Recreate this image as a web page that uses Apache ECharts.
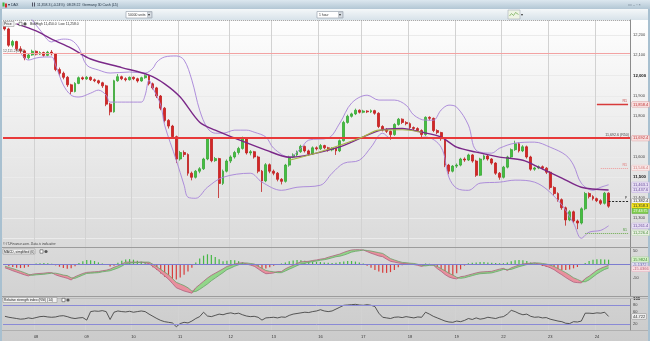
<!DOCTYPE html>
<html><head><meta charset="utf-8">
<script src="https://cdn.jsdelivr.net/npm/echarts@6/dist/echarts.min.js"></script>
<style>html,body{margin:0;padding:0;background:#fff;overflow:hidden}#c{width:650px;height:341px}</style>
</head><body><div id="c"></div>
<script>
// ---------- DATA ----------
const dayIdx = [8,21,33,45,58,69,81,92,104,116,128,140,152];
const dayLabels = ['08','09','10','11','12','13','16','17','18','19','22','23','24'];
const nCats = 161;
// [open, close, low, high] hourly-ish candles
const candles = [
[12245,12230,12222,12258],[12230,12150,12142,12236],[12150,12168,12140,12176],[12168,12132,12122,12172],
[12132,12122,12110,12145],[12122,12088,12076,12128],[12088,12102,12080,12108],[12102,12120,12098,12128],
[12120,12106,12100,12124],[12106,12114,12102,12120],[12114,12100,12094,12118],[12100,12116,12096,12122],
[12116,12108,12100,12126],[12108,12030,12022,12112],[12030,12012,12000,12040],[12012,11992,11982,12020],
[11992,11955,11945,11998],[11955,11922,11910,11960],[11922,11962,11918,11968],[11962,11990,11958,11996],
[11990,11984,11978,11996],[11984,11992,11980,11998],[11992,11980,11974,11996],[11980,11975,11968,11986],
[11975,11965,11958,11980],[11965,11950,11940,11970],[11950,11860,11850,11955],[11860,11822,11805,11866],
[11822,11975,11818,11980],[11975,11995,11970,12008],[11995,11985,11978,12000],[11985,11980,11972,11992],
[11980,11992,11976,11996],[11992,11985,11978,11996],[11985,11974,11966,11990],[11974,11990,11970,11995],
[11990,12000,11985,12006],[12000,11960,11952,12004],[11960,11940,11932,11966],[11940,11900,11890,11945],
[11900,11840,11830,11905],[11840,11780,11770,11846],[11780,11752,11740,11786],[11752,11700,11690,11758],
[11700,11590,11570,11705],[11590,11622,11582,11630],[11622,11612,11600,11632],[11612,11520,11508,11618],
[11520,11500,11485,11528],[11500,11530,11494,11536],[11530,11542,11520,11550],[11542,11590,11536,11596],
[11590,11690,11584,11698],[11690,11582,11574,11694],[11582,11592,11576,11600],[11592,11470,11398,11596],
[11470,11530,11462,11538],[11530,11580,11524,11588],[11580,11600,11570,11608],[11600,11622,11592,11630],
[11622,11642,11612,11650],[11642,11695,11636,11700],[11695,11620,11612,11698],[11620,11626,11608,11634],
[11626,11600,11592,11630],[11600,11530,11520,11606],[11530,11482,11428,11536],[11482,11562,11476,11570],
[11562,11530,11520,11568],[11530,11520,11510,11538],[11520,11490,11480,11526],[11490,11480,11465,11496],
[11480,11560,11474,11566],[11560,11600,11552,11606],[11600,11610,11594,11618],[11610,11626,11602,11632],
[11626,11652,11620,11660],[11652,11630,11622,11656],[11630,11615,11606,11636],[11615,11645,11610,11652],
[11645,11640,11632,11652],[11640,11656,11634,11664],[11656,11645,11638,11660],[11645,11635,11626,11650],
[11635,11642,11628,11648],[11642,11630,11610,11646],[11630,11680,11624,11686],[11680,11770,11676,11778],
[11770,11800,11764,11808],[11800,11812,11794,11818],[11812,11830,11806,11838],[11830,11820,11814,11834],
[11820,11826,11815,11832],[11826,11822,11816,11830],[11822,11828,11816,11834],[11828,11815,11808,11832],
[11815,11750,11742,11820],[11750,11735,11726,11756],[11735,11726,11718,11742],[11726,11710,11685,11730],
[11710,11760,11704,11766],[11760,11786,11754,11792],[11786,11770,11762,11790],[11770,11764,11756,11776],
[11764,11745,11738,11770],[11745,11740,11732,11750],[11740,11730,11722,11746],[11730,11710,11690,11736],
[11710,11795,11704,11800],[11795,11790,11780,11800],[11790,11730,11722,11794],[11730,11720,11712,11736],
[11720,11690,11680,11724],[11690,11560,11550,11694],[11560,11530,11515,11566],[11530,11555,11524,11560],
[11555,11560,11546,11568],[11560,11590,11554,11596],[11590,11585,11576,11598],[11585,11610,11580,11616],
[11610,11580,11572,11614],[11580,11510,11502,11586],[11510,11590,11506,11596],[11590,11605,11584,11612],
[11605,11590,11582,11610],[11590,11570,11562,11594],[11570,11520,11512,11574],[11520,11500,11488,11526],
[11500,11550,11494,11556],[11550,11600,11544,11606],[11600,11636,11594,11642],[11636,11665,11630,11680],
[11665,11630,11622,11672],[11630,11650,11624,11658],[11650,11600,11592,11656],[11600,11540,11532,11606],
[11540,11546,11532,11552],[11546,11552,11540,11558],[11552,11545,11538,11558],[11545,11525,11516,11550],
[11525,11450,11440,11530],[11450,11420,11410,11456],[11420,11390,11380,11426],[11390,11350,11340,11396],
[11350,11290,11262,11356],[11290,11330,11284,11338],[11330,11285,11276,11336],[11285,11275,11245,11292],
[11275,11345,11268,11352],[11345,11420,11338,11428],[11420,11405,11396,11426],[11405,11395,11386,11412],
[11395,11385,11378,11400],[11385,11372,11364,11392],[11372,11422,11366,11428],[11422,11358,11350,11426]
];
// Bollinger bands and moving average, read as [candle index, price]
const bbUpper = [[6,12300],[9,12225],[12,12166],[13,12172],[15,12180],[17,12175],[19,12136],[21,12052],[24,12028],[27,12013],[32,12018],[36,12013],[38,12037],[39,12067],[41,12092],[44,12097],[46,12077],[48,11978],[50,11830],[52,11742],[54,11717],[56,11717],[59,11732],[62,11732],[64,11722],[67,11698],[69,11643],[73,11599],[76,11643],[78,11683],[83,11693],[86,11767],[89,11865],[93,11904],[96,11880],[100,11880],[103,11855],[105,11806],[108,11781],[110,11781],[112,11831],[114,11855],[116,11845],[119,11757],[121,11633],[125,11619],[127,11643],[131,11668],[136,11673],[140,11648],[144,11609],[146,11560],[148,11471],[151,11436],[153,11451],[155,11463.1]];
const bbLower = [[4,12111],[6,12077],[8,12087],[10,12092],[12,12092],[13,12052],[15,11954],[17,11904],[19,11895],[22,11914],[24,11929],[26,11904],[27,11870],[31,11870],[35,11870],[36,11904],[37,11978],[38,11939],[40,11855],[41,11757],[44,11584],[46,11461],[47,11402],[49,11397],[52,11451],[56,11500],[63,11520],[66,11476],[71,11436],[75,11451],[81,11461],[84,11520],[87,11569],[91,11584],[94,11648],[97,11717],[99,11693],[105,11693],[108,11698],[112,11648],[114,11500],[116,11446],[119,11436],[122,11471],[127,11476],[131,11486],[136,11476],[142,11387],[146,11274],[148,11200],[150,11230],[153,11239],[155,11261.4]];
const maPurple = [[3,12255],[8,12220],[12,12180],[17,12136],[22,12082],[30,12040],[37,12003],[41,11960],[45,11895],[50,11771],[54,11732],[59,11693],[67,11634],[73,11599],[86,11650],[96,11730],[102,11740],[107,11722],[112,11698],[116,11648],[121,11624],[127,11599],[133,11584],[137,11550],[143,11496],[148,11451],[155,11437.6]];
const maOlive = [[73,11584],[80,11620],[86,11658],[92,11700],[96,11732],[102,11734],[107,11722]];
// MACD (simplified) panel
const macdHist = [-4,-8,-11,-14,-15,-14,-10,-4,2,3,4,3,1,-5,-10,-15,-18,-16,-8,4,10,15,14,11,6,2,-4,-9,-6,5,12,17,18,16,12,8,4,-3,-12,-22,-35,-47,-56,-59,-57,-50,-40,-28,-14,6,20,31,36,33,26,18,10,12,15,14,10,6,2,-3,-8,-14,-18,-17,-12,-6,-2,2,6,10,13,15,14,12,10,9,8,7,6,5,4,5,7,9,11,11,9,6,2,-6,-14,-22,-28,-32,-33,-30,-22,-12,-5,-2,-2,-3,-3,-2,2,1,-5,-14,-24,-34,-40,-41,-34,-20,-6,3,5,6,7,7,6,5,4,3,3,6,10,14,15,14,11,6,2,-3,-7,-11,-15,-18,-21,-22,-22,-20,-16,-11,-4,4,11,16,18,18,17,16];
const macdLine = [-14,-19,-25,-30,-35,-40,-44,-38,-36,-35,-34,-32,-32,-40,-45,-49,-53,-59,-47,-41,-35,-31,-30,-29,-28,-25,-23,-19,-12,-7,0,7,7,7,7,7,5,1,-9,-20,-32,-44,-56,-72,-88,-94,-100,-104,-108,-88,-76,-64,-52,-42,-34,-26,-18,-9,-5,0,3,5,0,-4,-8,-18,-28,-36,-35,-33,-28,-28,-18,-11,-5,2,8,9,10,13,15,18,20,25,29,33,37,43,48,52,53,53,52,46,40,35,30,27,18,10,7,4,2,1,-1,-2,-5,-9,-3,-3,-4,-17,-27,-39,-48,-53,-55,-47,-45,-41,-37,-33,-30,-29,-28,-27,-23,-19,-16,-24,-14,-9,-4,0,2,3,4,0,-4,-8,-14,-21,-31,-40,-50,-59,-67,-69,-70,-54,-45,-34,-23,-16,-10,-5];
const signalLine = [-8,-13,-17,-22,-27,-32,-38,-42,-40,-39,-38,-36,-34,-34,-37,-41,-43,-51,-53,-47,-41,-35,-34,-33,-32,-29,-27,-25,-20,-15,-8,1,3,5,5,7,7,7,-1,-10,-20,-30,-40,-54,-68,-74,-80,-88,-100,-102,-94,-84,-74,-62,-52,-42,-32,-21,-15,-8,-3,3,4,2,0,-8,-16,-24,-27,-29,-32,-32,-26,-19,-13,-6,0,3,6,9,11,14,16,19,23,27,29,33,38,44,47,49,52,50,48,45,42,39,30,20,15,10,6,5,3,2,-1,-5,-7,-5,-4,-9,-17,-25,-34,-41,-49,-53,-51,-47,-43,-39,-36,-35,-34,-33,-29,-25,-20,-20,-20,-15,-10,-6,-2,1,4,4,2,0,-4,-9,-17,-24,-32,-41,-51,-57,-64,-66,-59,-48,-37,-28,-20,-15];
const macdBoxes = ['15.9824','-5.1372','-15.0366'];
// RSI (14)
const rsi = [45,42,40,38,36,37,40,38,41,44,45,43,42,43,46,47,44,40,38,40,41,33,60,62,61,63,60,35,58,62,60,59,61,58,60,62,60,52,45,38,32,28,26,24,12,22,26,24,30,38,44,58,46,44,48,52,50,54,56,53,55,50,46,44,45,42,33,40,41,42,40,43,42,48,52,54,56,58,57,60,62,66,62,60,62,68,74,80,81,82,83,81,80,82,80,76,55,42,40,38,42,43,41,44,42,40,43,42,58,52,45,40,35,30,27,26,30,28,32,38,35,40,36,38,42,40,38,42,44,52,64,60,54,50,52,45,42,43,40,41,36,33,30,28,23,22,28,27,30,55,55,54,56,55,58,44.722];
// tick labels
const priceTicks = [11300,11400,11500,11600,11800,11900,12000,12100,12200];
const macdTicks = [-50,50];
const rsiTicks = [20,60,80,100];

// ---------- CHART ----------
const FONT = '"Liberation Sans", Arial, sans-serif';
const dayMap = {}; dayIdx.forEach((d,k)=>{dayMap[d]=dayLabels[k];});
const cats = []; for (let i=0;i<nCats;i++) cats.push(i);
const fmt = v => v.toLocaleString('en-US');
const grad = (a,b) => ({type:'linear',x:0,y:0,x2:0,y2:1,colorStops:[{offset:0,color:a},{offset:1,color:b}]});

const ribBase = macdLine.map((v,i)=>Math.min(v, signalLine[i]));
const ribUp = macdLine.map((v,i)=>Math.max(v - signalLine[i], 0));
const ribDn = macdLine.map((v,i)=>Math.max(signalLine[i] - v, 0));

function box(val, text, bg, col, border){
  return {yAxis: val, lineStyle:{color:'rgba(0,0,0,0)', width:1, opacity:1, type:'solid'},
    label:{show:true, opacity:1, position:'end', distance:2, formatter:text, fontSize:4, fontFamily:FONT,
      color:col, backgroundColor:bg, borderColor:border||bg, borderWidth:0.5, padding:[1,1,0,1]}};
}
function tag(text, col){
  return {show:true, position:'insideEndTop', formatter:text, fontSize:3.6, fontFamily:FONT, color:col, distance:[1,1]};
}

const chart = echarts.init(document.getElementById('c'), null, {renderer:'canvas', width:650, height:341});
const xAxes = [0,1,2].map(k => ({
  gridIndex:k, type:'category', data:cats, boundaryGap:true,
  axisLine:{show:false}, axisTick:{show:false},
  axisLabel:{show:k===2, interval:(i)=>dayMap[i]!==undefined, formatter:(v,i)=>dayMap[i]||'',
    fontSize:4, color:'#333', margin:4, fontFamily:FONT},
  splitLine:{show:true, interval:(i)=>dayMap[i]!==undefined, lineStyle:{color:'#d2d2d2', width:1}}
}));
const yLab = (vals, boldVals) => ({
  customValues: vals, fontSize:4, color:'#444', margin:3, fontFamily:FONT,
  formatter: v => boldVals.indexOf(v) >= 0 ? '{b|'+fmt(v)+'}' : fmt(v),
  rich:{b:{fontWeight:'bold', fontSize:4.3, color:'#111', fontFamily:FONT}}
});

const option = {
  animation:false,
  backgroundColor:'transparent',
  grid:[
    {left:3, right:20, top:20, height:227, outerBoundsMode:'none'},
    {left:3, right:20, top:247, height:49, outerBoundsMode:'none'},
    {left:3, right:20, top:299, height:31.5, outerBoundsMode:'none'}
  ],
  xAxis: xAxes,
  yAxis:[
    {gridIndex:0, type:'value', position:'right', min:11157, max:12274, splitNumber:11,
      axisLine:{show:true, lineStyle:{color:'#8c8c8c'}}, axisTick:{show:false},
      splitLine:{show:true, lineStyle:{color:'#ebebeb'}}, axisLabel: yLab(priceTicks,[12000,11500])},
    {gridIndex:1, type:'value', position:'right', min:-118.5, max:63,
      axisLine:{show:true, lineStyle:{color:'#8c8c8c'}}, axisTick:{show:false},
      splitLine:{show:false}, axisLabel: yLab(macdTicks,[])},
    {gridIndex:2, type:'value', position:'right', min:0, max:100,
      axisLine:{show:true, lineStyle:{color:'#8c8c8c'}}, axisTick:{show:false},
      splitLine:{show:false}, axisLabel: yLab(rsiTicks,[100])}
  ],
  series:[
    {type:'candlestick', xAxisIndex:0, yAxisIndex:0, data:candles, barWidth:2.4, clip:false,
      itemStyle:{color:'#44c040', color0:'#d42626', borderColor:'#39a636', borderColor0:'#c01f1f', borderWidth:0.8},
      markLine:{symbol:['none','none'], silent:true, animation:false, precision:1,
        data:[
          {yAxis:12111.2, lineStyle:{color:'#f3a3a3', width:1, type:'solid'},
            label:{show:true, position:'insideStartTop', formatter:'12,111.2(R50)', fontSize:3.4, fontFamily:FONT, color:'#555', distance:[0,1]}},
          {yAxis:11692.4, lineStyle:{color:'#e8393a', width:2, type:'solid'}, label:tag('11,692.6 (R50)','#444')},
          box(11692.4,'11,692.4','#f7dede','#c03535','#e0a0a0'),
          [{coord:[152,11858.4], lineStyle:{color:'#d83a3a', width:1.3, type:'solid'}, label:tag('R1','#c84040')},{coord:[160,11858.4]}],
          box(11858.4,'11,858.4','#f7dede','#c03535','#e0a0a0'),
          [{coord:[153,11546.4], lineStyle:{color:'#f09a9a', width:1, type:[1,1]}, label:tag('R1','#e07070')},{coord:[160,11546.4]}],
          box(11546.4,'11,546.4','#f9e9e9','#d07878','#ecc0c0'),
          box(11463.1,'11,463.1','#e6def2','#6a4c9c','#c4b2e0'),
          box(11437.6,'11,437.6','#e6def2','#6a4c9c','#c4b2e0'),
          [{coord:[155,11382.4], lineStyle:{color:'#222', width:1, type:[2,1.5]}, label:tag('P','#333')},{coord:[160,11382.4]}],
          box(11382.4,'11,382.4','#f2f2f2','#333','#999'),
          box(11358.3,'11,358.3','#f2e21a','#333','#c8b800'),
          box(11261.4,'11,261.4','#e6def2','#6a4c9c','#c4b2e0'),
          [{coord:[149,11226.4], lineStyle:{color:'#6aaa4a', width:1, type:[1,1]}, label:tag('S1','#4a9a3a')},{coord:[160,11226.4]}],
          box(11226.4,'11,226.4','#e8f0e2','#4a8a3a','#b8d0b0')
        ]}
    },
    {type:'line', xAxisIndex:0, yAxisIndex:0, data:bbUpper, symbol:'none', smooth:0.35, lineStyle:{color:'#a682d8', width:0.9}, z:3},
    {type:'line', xAxisIndex:0, yAxisIndex:0, data:bbLower, symbol:'none', smooth:0.35, lineStyle:{color:'#a682d8', width:0.9}, z:3},
    {type:'line', xAxisIndex:0, yAxisIndex:0, data:maPurple, symbol:'none', smooth:0.3, lineStyle:{color:'#7a2888', width:1.4}, z:4},
    {type:'line', xAxisIndex:0, yAxisIndex:0, data:maOlive, symbol:'none', smooth:0.3, lineStyle:{color:'#a6b646', width:1.1}, z:5},
    // MACD panel
    {type:'bar', xAxisIndex:1, yAxisIndex:1, data:macdHist, barWidth:1.2, clip:false,
      itemStyle:{color:p => p.value >= 0 ? '#46b846' : '#d83c3c'},
      markLine:{symbol:['none','none'], silent:true, animation:false,
        data:[
          {yAxis:0, lineStyle:{color:'#7c7cd0', width:1, type:'solid'}, label:{show:false}},
          box(macdHist[macdHist.length-1], macdBoxes[0], '#d8f0cc', '#3a8a2a', '#9ccc88'),
          box(macdLine[macdLine.length-1], macdBoxes[1], '#e2e0f2', '#5a5aa0', '#b8b8dc'),
          box(signalLine[signalLine.length-1]-3, macdBoxes[2], '#f6e0e4', '#c05a70', '#e4b0bc')
        ]}
    },
    {type:'line', xAxisIndex:1, yAxisIndex:1, data:ribBase, stack:'rib', stackStrategy:'all', symbol:'none', lineStyle:{opacity:0}, z:3},
    {type:'line', xAxisIndex:1, yAxisIndex:1, data:ribUp, stack:'rib', stackStrategy:'all', symbol:'none', lineStyle:{opacity:0}, areaStyle:{color:'#92d68a', opacity:1}, z:3},
    {type:'line', xAxisIndex:1, yAxisIndex:1, data:ribDn, stack:'rib', stackStrategy:'all', symbol:'none', lineStyle:{opacity:0}, areaStyle:{color:'#e8909e', opacity:1}, z:3},
    {type:'line', xAxisIndex:1, yAxisIndex:1, data:macdLine, symbol:'none', lineStyle:{color:'#b0607e', width:0.8}, z:4},
    {type:'line', xAxisIndex:1, yAxisIndex:1, data:signalLine, symbol:'none', lineStyle:{color:'#6aa46a', width:0.8}, z:4},
    // RSI panel
    {type:'line', xAxisIndex:2, yAxisIndex:2, data:rsi, symbol:'none', clip:false, lineStyle:{color:'#333', width:0.8}, z:4,
      markLine:{symbol:['none','none'], silent:true, animation:false,
        data:[
          {yAxis:80, lineStyle:{color:'#8a8ad6', width:1, type:'solid'}, label:{show:false}},
          {yAxis:20, lineStyle:{color:'#8a8ad6', width:1, type:'solid'}, label:{show:false}},
          box(44.722,'44.722','#ececec','#333','#999')
        ]}
    }
  ],
  graphic:[
    {type:'rect', z:-20, shape:{x:0,y:0,width:650,height:341}, style:{fill:'#a8c0d0'}},
    {type:'rect', z:-19, shape:{x:0,y:0,width:650,height:9}, style:{fill:grad('#dce7ef','#b2c6d4')}},
    {type:'rect', z:-19, shape:{x:2,y:9,width:646,height:11}, style:{fill:grad('#f4f7f9','#d7e2e9')}},
    {type:'rect', z:-19, shape:{x:2,y:20,width:646,height:321}, style:{fill:grad('#fefefe','#cbcbcb')}},
    {type:'line', z:50, shape:{x1:3,y1:20.5,x2:630,y2:20.5}, style:{stroke:'#999', lineWidth:0.8, lineDash:[1,1]}},
    {type:'line', z:50, shape:{x1:2,y1:247.5,x2:648,y2:247.5}, style:{stroke:'#9c9c9c', lineWidth:1}},
    {type:'line', z:50, shape:{x1:2,y1:296.5,x2:648,y2:296.5}, style:{stroke:'#9c9c9c', lineWidth:1}},
    {type:'line', z:50, shape:{x1:2,y1:298.5,x2:648,y2:298.5}, style:{stroke:'#b4b4b4', lineWidth:0.8}},
    {type:'line', z:50, shape:{x1:2,y1:330.5,x2:648,y2:330.5}, style:{stroke:'#a8a8a8', lineWidth:0.8}},
    // header
    {type:'rect', z:60, shape:{x:2.5,y:2.5,width:2,height:4}, style:{fill:'#3fb23f'}},
    {type:'rect', z:60, shape:{x:5,y:3.5,width:2,height:4}, style:{fill:'#d43030'}},
    {type:'text', z:60, x:8, y:4.6, style:{text:'▾ DAX', fontSize:3.6, fontFamily:FONT, fill:'#1e2e3e', verticalAlign:'middle'}},
    {type:'rect', z:60, shape:{x:32,y:2.5,width:0.9,height:4}, style:{fill:'#445'}},
    {type:'rect', z:60, shape:{x:34,y:2.5,width:0.9,height:4}, style:{fill:'#445'}},
    {type:'text', z:60, x:37, y:4.6, style:{text:'11,358.3 (-0.24%)  08:28:22  Germany 30 Cash (£5)', fontSize:3.5, fontFamily:FONT, fill:'#1e2e3e', verticalAlign:'middle'}},
    {type:'text', z:60, x:628, y:4.6, style:{text:'▭ – ▫ ×', fontSize:3.8, fontFamily:FONT, fill:'#6a7a8a', verticalAlign:'middle'}},
    // toolbar dropdowns
    {type:'rect', z:60, shape:{x:126,y:11.5,width:26,height:6.5}, style:{fill:'#fff', stroke:'#8e98a4', lineWidth:0.6}},
    {type:'text', z:61, x:128, y:14.8, style:{text:'50000 units', fontSize:3.4, fontFamily:FONT, fill:'#333', verticalAlign:'middle'}},
    {type:'rect', z:61, shape:{x:147.5,y:12,width:4,height:5.5}, style:{fill:'#d6dce2', stroke:'#8e98a4', lineWidth:0.4}},
    {type:'text', z:62, x:148.3, y:14.8, style:{text:'▾', fontSize:3.5, fontFamily:FONT, fill:'#333', verticalAlign:'middle'}},
    {type:'rect', z:60, shape:{x:317,y:11.5,width:26,height:6.5}, style:{fill:'#fff', stroke:'#8e98a4', lineWidth:0.6}},
    {type:'text', z:61, x:319, y:14.8, style:{text:'1 hour', fontSize:3.4, fontFamily:FONT, fill:'#333', verticalAlign:'middle'}},
    {type:'rect', z:61, shape:{x:338.5,y:12,width:4,height:5.5}, style:{fill:'#d6dce2', stroke:'#8e98a4', lineWidth:0.4}},
    {type:'text', z:62, x:339.3, y:14.8, style:{text:'▾', fontSize:3.5, fontFamily:FONT, fill:'#333', verticalAlign:'middle'}},
    {type:'rect', z:60, shape:{x:508,y:10,width:12,height:9}, style:{fill:'#eef4e4', stroke:'#a8b0b8', lineWidth:0.6}},
    {type:'polyline', z:61, shape:{points:[[509.5,16],[511.5,13.5],[513.5,15.5],[515.5,12.5],[518.5,14.5]]}, style:{stroke:'#6aa84a', lineWidth:0.7, fill:null}},
    {type:'text', z:61, x:521, y:14.6, style:{text:'▾', fontSize:3.5, fontFamily:FONT, fill:'#333', verticalAlign:'middle'}},
    // panel headers
    {type:'rect', z:60, shape:{x:3,y:21.5,width:11,height:5}, style:{fill:'#f4f4f4', stroke:'#8a8a8a', lineWidth:0.5}},
    {type:'text', z:61, x:4, y:24.1, style:{text:'Price', fontSize:3.4, fontFamily:FONT, fill:'#222', verticalAlign:'middle'}},
    {type:'text', z:61, x:14.5, y:24.1, style:{text:'⌕', fontSize:3.6, fontFamily:'DejaVu Sans', fill:'#333', verticalAlign:'middle'}},
    {type:'rect', z:61, shape:{x:19,y:22.2,width:3,height:3.4}, style:{fill:'#fff', stroke:'#333', lineWidth:0.5}},
    {type:'circle', z:61, shape:{cx:25,cy:23.9,r:1.6}, style:{fill:'#555'}},
    {type:'text', z:61, x:30, y:24.1, style:{text:'Bid/High 11,450.0  Low 11,258.0', fontSize:3.4, fontFamily:FONT, fill:'#333', verticalAlign:'middle'}},
    {type:'text', z:61, x:3, y:244, style:{text:'© IT-Finance.com. Data is indicative', fontSize:3.3, fontStyle:'italic', fontFamily:FONT, fill:'#444', verticalAlign:'middle'}},
    {type:'rect', z:60, shape:{x:3,y:249,width:32,height:5}, style:{fill:'#f0f0f0', stroke:'#8a8a8a', lineWidth:0.5}},
    {type:'text', z:61, x:4, y:251.6, style:{text:'MACD, simplified (6)', fontSize:3.3, fontFamily:FONT, fill:'#222', verticalAlign:'middle'}},
    {type:'rect', z:61, shape:{x:40,y:249.8,width:3,height:3.4}, style:{fill:'#fff', stroke:'#333', lineWidth:0.5}},
    {type:'circle', z:61, shape:{cx:46,cy:251.5,r:1.6}, style:{fill:'#555'}},
    {type:'rect', z:60, shape:{x:3,y:297.5,width:54,height:5}, style:{fill:'#f0f0f0', stroke:'#8a8a8a', lineWidth:0.5}},
    {type:'text', z:61, x:4, y:300.1, style:{text:'Relative strength index (RSI) (14)', fontSize:3.3, fontFamily:FONT, fill:'#222', verticalAlign:'middle'}},
    {type:'rect', z:61, shape:{x:62,y:298.3,width:3,height:3.4}, style:{fill:'#fff', stroke:'#333', lineWidth:0.5}},
    {type:'circle', z:61, shape:{cx:68,cy:300,r:1.6}, style:{fill:'#555'}},
    // candle countdown box
    {type:'rect', z:60, shape:{x:632,y:208.5,width:16,height:5}, style:{fill:'#7fcc4c', stroke:'#5aa83a', lineWidth:0.5}},
    {type:'text', z:61, x:633.5, y:211.1, style:{text:'27:43:75', fontSize:3.6, fontFamily:FONT, fill:'#fff', verticalAlign:'middle'}}
  ]
};
chart.setOption(option);
</script></body></html>
